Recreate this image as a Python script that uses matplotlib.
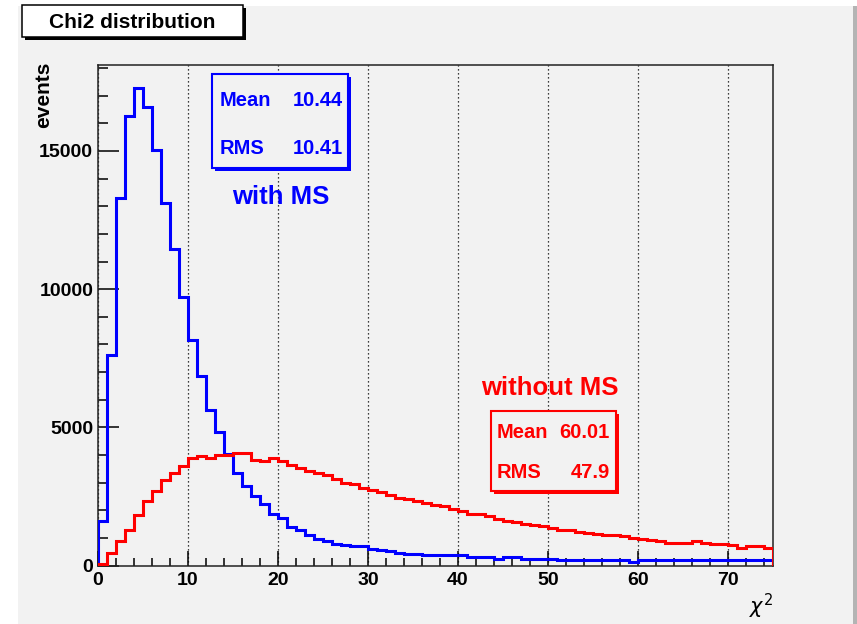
import numpy as np
import matplotlib
matplotlib.use("Agg")
import matplotlib.pyplot as plt
from matplotlib.patches import Rectangle
from matplotlib.ticker import MultipleLocator

# ---------------- data ----------------
bin_edges = np.arange(0, 76, 1)

with_ms = [1600, 7600, 13300, 16250, 17270, 16600, 15030, 13130, 11440, 9720,
           8150, 6850, 5630, 4840, 4050, 3345, 2890, 2500, 2210, 1870,
           1715, 1390, 1270, 1120, 970, 880, 790, 750, 710, 700,
           600, 545, 540, 460, 425, 410, 385, 385, 380, 380,
           380, 300, 300, 300, 245, 325, 325, 245, 245, 245,
           245, 200, 200, 200, 200, 200, 200, 200, 200, 140,
           195, 195, 195, 195, 195, 195, 195, 195, 195, 195,
           195, 195, 195, 195, 195]

without_ms = [60, 450, 870, 1270, 1810, 2320, 2680, 3080, 3345, 3590,
              3900, 3950, 3900, 4010, 3990, 4070, 4070, 3830, 3770, 3890,
              3770, 3620, 3540, 3420, 3345, 3260, 3115, 2985, 2960, 2800,
              2740, 2660, 2540, 2450, 2415, 2330, 2250, 2200, 2140, 2055,
              1960, 1870, 1860, 1775, 1690, 1595, 1570, 1510, 1450, 1420,
              1365, 1270, 1270, 1205, 1190, 1150, 1120, 1090, 1060, 1005,
              975, 905, 875, 810, 810, 810, 880, 810, 760, 760,
              725, 630, 700, 700, 630]

x_ticks = [0, 10, 20, 30, 40, 50, 60, 70]
y_ticks = [0, 5000, 10000, 15000]

title_text = "Chi2 distribution"
stats_with = [("Mean", "10.44"), ("RMS", "10.41")]
stats_without = [("Mean", "60.01"), ("RMS", "47.9")]

# ---------------- style ----------------
W, H = 857, 624
BG = "#f2f2f2"
BLUE = "#0000ff"
RED = "#ff0000"
FONT = ["Liberation Sans", "DejaVu Sans"]
plt.rcParams["font.family"] = FONT

fig = plt.figure(figsize=(W / 100, H / 100), dpi=100)
fig.patch.set_facecolor("white")


def fx(x):
    return x / W


def fy(y):
    return 1 - y / H


def prect(x0, y0, x1, y1, **kw):
    return Rectangle((fx(x0), fy(y1)), (x1 - x0) / W, (y1 - y0) / H,
                     transform=fig.transFigure, **kw)


# canvas background
fig.add_artist(prect(18, 6, 853, 624, facecolor=BG, edgecolor="none", zorder=-10))
fig.add_artist(prect(853, 6, 857, 624, facecolor="#b4b4b4", edgecolor="none", zorder=-10))

ax = fig.add_axes([fx(98), fy(565.5), (773 - 98) / W, (565.5 - 64.5) / H])
ax.set_facecolor("none")

ax.stairs(with_ms, bin_edges, baseline=0, color=BLUE, lw=2.2, zorder=3)
ax.stairs(without_ms, bin_edges, baseline=0, color=RED, lw=2.2, zorder=4)

ax.set_xlim(0, 75)
ax.set_ylim(0, 18130)
ax.set_xticks(x_ticks)
ax.set_yticks(y_ticks)
ax.set_xticklabels([str(v) for v in x_ticks])
ax.set_yticklabels([str(v) for v in y_ticks])
ax.xaxis.set_minor_locator(MultipleLocator(2))
ax.yaxis.set_minor_locator(MultipleLocator(1000))

ax.tick_params(axis="x", which="major", direction="in", length=11, width=1.1,
               pad=5, labelsize=14, colors="black")
ax.tick_params(axis="x", which="minor", direction="in", length=5.5, width=1.1)
ax.tick_params(axis="y", which="major", direction="in", length=15, width=1.1,
               pad=3.5, labelsize=14)
ax.tick_params(axis="y", which="minor", direction="in", length=7.5, width=1.1)
for lab in ax.get_xticklabels() + ax.get_yticklabels():
    lab.set_fontweight("bold")

for s in ax.spines.values():
    s.set_linewidth(1.1)
    s.set_color("#222222")

ax.grid(axis="x", which="major", linestyle=(0, (1, 2.2)), color="black", lw=0.9)
ax.set_axisbelow(True)

# axis titles
fig.text(fx(44), fy(62), "events", rotation=90, ha="center", va="top",
         fontsize=15, fontweight="bold")
fig.text(fx(761), fy(606), r"$\chi^{2}$", ha="center", va="center", fontsize=15)

# title box
fig.add_artist(prect(25, 8, 246, 40, facecolor="black", edgecolor="none", zorder=5))
fig.add_artist(prect(22, 5, 243, 37, facecolor="white", edgecolor="black", lw=1.1, zorder=6))
fig.text(fx(132.5), fy(22), title_text, ha="center", va="center",
         fontsize=15, fontweight="bold", zorder=7)


def stats_box(x0, y0, x1, y1, color, rows, ys, xl, xr):
    fig.add_artist(prect(x0 + 3, y0 + 3, x1 + 3, y1 + 3, facecolor=color,
                         edgecolor="none", zorder=5))
    fig.add_artist(prect(x0, y0, x1, y1, facecolor=BG, edgecolor=color,
                         lw=1.5, zorder=6))
    for (name, val), yy in zip(rows, ys):
        fig.text(fx(xl), fy(yy), name, ha="left", va="center", color=color,
                 fontsize=14.5, fontweight="bold", zorder=7)
        fig.text(fx(xr), fy(yy), val, ha="right", va="center", color=color,
                 fontsize=14.5, fontweight="bold", zorder=7)


stats_box(212, 74, 348, 168, BLUE, stats_with, [100, 148], 220, 343)
stats_box(491, 411, 616, 491, RED, stats_without, [433, 473], 497, 610)

fig.text(fx(281), fy(197), "with MS", ha="center", va="center", color=BLUE,
         fontsize=18.5, fontweight="bold", zorder=7)
fig.text(fx(550), fy(388), "without MS", ha="center", va="center", color=RED,
         fontsize=18.5, fontweight="bold", zorder=7)

fig.savefig("out.png", dpi=100, facecolor=fig.get_facecolor())
